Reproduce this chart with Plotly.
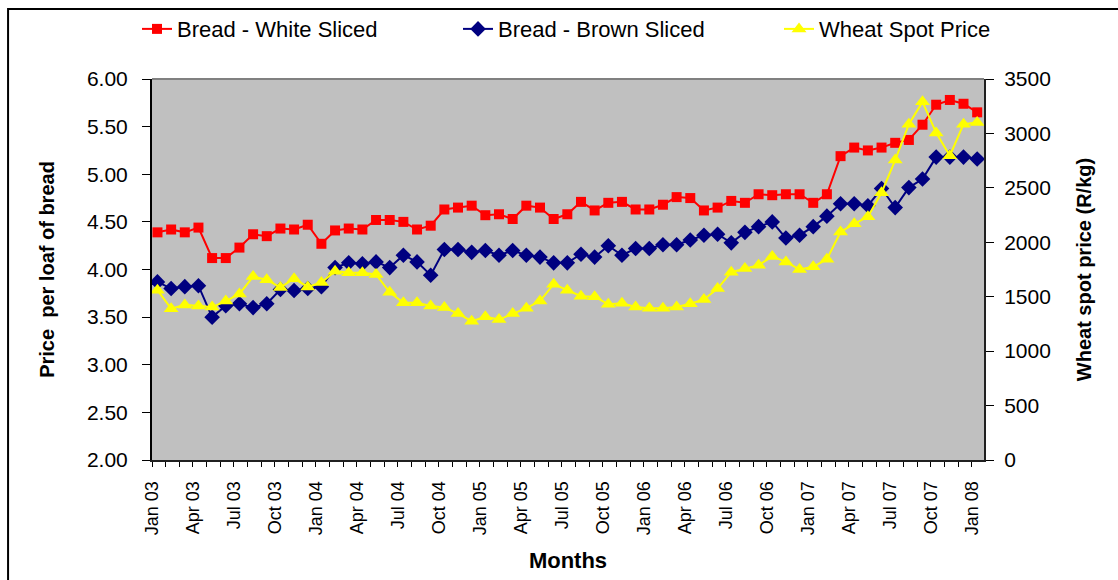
import plotly.graph_objects as go

# Monthly series, Jan 2003 .. Jan 2008 (61 months)
white_sliced = [4.39, 4.42, 4.39, 4.44, 4.12, 4.12, 4.23, 4.37, 4.35, 4.43,
                4.42, 4.47, 4.27, 4.41, 4.43, 4.42, 4.52, 4.52, 4.50, 4.42,
                4.46, 4.63, 4.65, 4.67, 4.57, 4.58, 4.53, 4.67, 4.65, 4.53,
                4.58, 4.71, 4.62, 4.70, 4.71, 4.63, 4.63, 4.68, 4.76, 4.75,
                4.62, 4.65, 4.72, 4.70, 4.79, 4.78, 4.79, 4.79, 4.70, 4.79,
                5.19, 5.28, 5.25, 5.28, 5.33, 5.36, 5.52, 5.73, 5.78, 5.74, 5.65]

brown_sliced = [3.87, 3.80, 3.82, 3.83, 3.50, 3.62, 3.64, 3.60, 3.64, 3.79,
                3.78, 3.80, 3.82, 4.02, 4.07, 4.06, 4.08, 4.02, 4.15, 4.08,
                3.94, 4.21, 4.21, 4.18, 4.20, 4.15, 4.20, 4.15, 4.13, 4.07,
                4.07, 4.16, 4.13, 4.25, 4.15, 4.22, 4.22, 4.26, 4.26, 4.31,
                4.36, 4.37, 4.28, 4.39, 4.45, 4.50, 4.33, 4.36, 4.45, 4.56,
                4.69, 4.69, 4.67, 4.85, 4.65, 4.86, 4.95, 5.18, 5.18, 5.18, 5.16]

wheat_spot = [1560, 1390, 1425, 1415, 1405, 1460, 1525, 1685, 1655, 1585,
              1665, 1590, 1630, 1735, 1720, 1720, 1705, 1540, 1445, 1445,
              1415, 1400, 1345, 1275, 1315, 1290, 1345, 1395, 1460, 1615,
              1560, 1505, 1500, 1430, 1440, 1405, 1395, 1395, 1405, 1435,
              1475, 1575, 1725, 1760, 1790, 1870, 1820, 1750, 1775, 1845,
              2095, 2170, 2235, 2455, 2755, 3085, 3290, 3005, 2795, 3085, 3100]

month_labels = ["Jan 03", "Apr 03", "Jul 03", "Oct 03", "Jan 04", "Apr 04",
                "Jul 04", "Oct 04", "Jan 05", "Apr 05", "Jul 05", "Oct 05",
                "Jan 06", "Apr 06", "Jul 06", "Oct 06", "Jan 07", "Apr 07",
                "Jul 07", "Oct 07", "Jan 08"]

n = len(white_sliced)
x = list(range(n))

# category tick marks sit slightly left of each month's point
offset = -0.4
tick_pos = [i + offset for i in range(n)]
tick_txt = [month_labels[i // 3] if i % 3 == 0 else "" for i in range(n)]

FONT = "Liberation Sans, Arial, sans-serif"
X_RANGE = [offset, n - 0.5]
PRICE_RANGE = [2, 6]
WHEAT_RANGE = [0, 3500]

fig = go.Figure()
fig.add_trace(go.Scatter(
    x=x, y=white_sliced, name="Bread - White Sliced", mode="lines+markers",
    line=dict(color="#FF0000", width=2),
    marker=dict(symbol="square", size=10, color="#FF0000"),
))
fig.add_trace(go.Scatter(
    x=x, y=brown_sliced, name="Bread - Brown Sliced", mode="lines+markers",
    line=dict(color="#000080", width=2),
    marker=dict(symbol="diamond", size=12, color="#000080"),
))
fig.add_trace(go.Scatter(
    x=x, y=wheat_spot, name="Wheat Spot Price", mode="lines+markers",
    yaxis="y2",
    line=dict(color="#FFFF00", width=2),
    marker=dict(symbol="triangle-up", size=13, color="#FFFF00"),
))

# overlay axes carrying only inward tick marks, so ticks cross the axis lines
inner_ticks = dict(showgrid=False, zeroline=False, showticklabels=False,
                   showline=False, ticks="inside", tickcolor="black",
                   tickwidth=1)

fig.update_layout(
    width=1118, height=580,
    margin=dict(l=152, r=134, t=79, b=120, autoexpand=False),
    paper_bgcolor="white",
    plot_bgcolor="#C0C0C0",
    font=dict(family=FONT, color="black"),
    showlegend=True,
    legend=dict(
        orientation="h", x=-0.018, xanchor="left", y=1.131, yanchor="middle",
        font=dict(family=FONT, size=22, color="black"),
        entrywidth=276, entrywidthmode="pixels",
        bgcolor="rgba(0,0,0,0)", itemclick=False,
    ),
    xaxis=dict(
        range=X_RANGE, showgrid=False, zeroline=False,
        tickmode="array", tickvals=tick_pos, ticktext=tick_txt,
        tickangle=-90, tickfont=dict(family=FONT, size=18),
        ticks="outside", ticklen=5, tickcolor="black", tickwidth=1,
        ticklabelstandoff=7,
        showline=True, linecolor="#202020", linewidth=2,
        title=dict(text="<b>Months</b>", font=dict(family=FONT, size=22),
                   standoff=18),
        automargin=False,
    ),
    xaxis2=dict(
        range=X_RANGE, overlaying="x", anchor="y", side="bottom",
        tickmode="array", tickvals=tick_pos, ticklen=7, **inner_ticks,
    ),
    yaxis=dict(
        range=PRICE_RANGE, dtick=0.5, tickformat=".2f", showgrid=False,
        zeroline=False, ticks="outside", ticklen=8, tickcolor="black",
        tickfont=dict(family=FONT, size=21), ticklabelstandoff=10,
        showline=True, linecolor="black", linewidth=2,
        title=dict(text="<b>Price  per loaf of bread</b>",
                   font=dict(family=FONT, size=20), standoff=27),
        automargin=False,
    ),
    yaxis2=dict(
        range=WHEAT_RANGE, dtick=500, overlaying="y", side="right",
        showgrid=False, zeroline=False, ticks="outside", ticklen=8,
        tickcolor="black", tickfont=dict(family=FONT, size=21),
        ticklabelstandoff=6,
        showline=True, linecolor="#202020", linewidth=2,
        title=dict(text="<b>Wheat spot price (R/kg)</b>",
                   font=dict(family=FONT, size=20), standoff=27),
        automargin=False,
    ),
    yaxis3=dict(
        range=PRICE_RANGE, dtick=0.5, overlaying="y", side="left",
        anchor="x", ticklen=8, **inner_ticks,
    ),
    yaxis4=dict(
        range=WHEAT_RANGE, dtick=500, overlaying="y", side="right",
        anchor="x", ticklen=8, **inner_ticks,
    ),
    shapes=[
        # grey top edge of the plot area
        dict(type="line", xref="paper", yref="paper", x0=0, x1=1, y0=1, y1=1,
             line=dict(color="#808080", width=2)),
        # outer chart frame
        dict(type="rect", xref="paper", yref="paper",
             x0=-0.173, x1=1.25, y0=-0.4, y1=1.1837,
             line=dict(color="black", width=2), layer="below"),
    ],
)

fig.write_html("out.html")
